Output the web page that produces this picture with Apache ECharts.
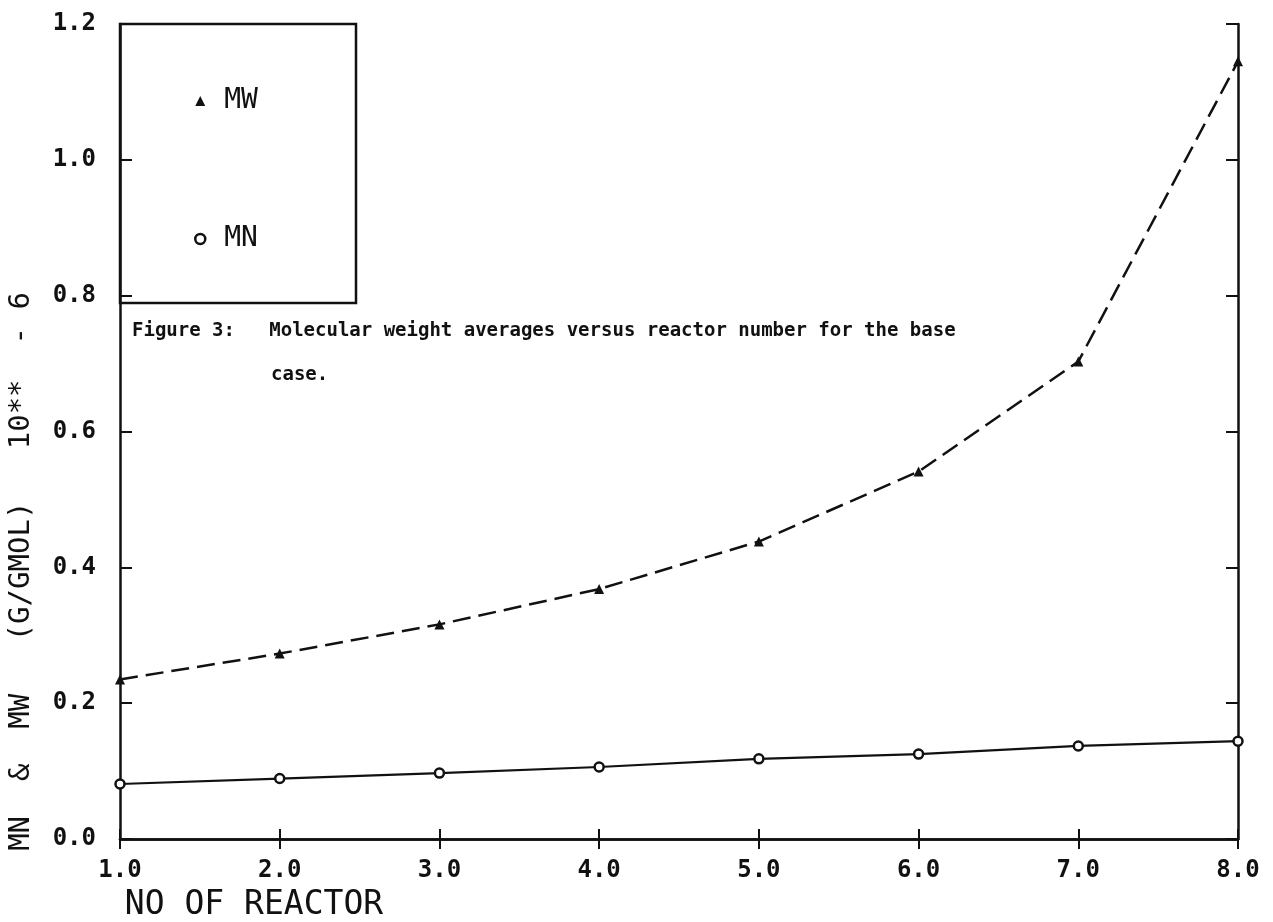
<!DOCTYPE html>
<html>
<head>
<meta charset="utf-8">
<title>Molecular weight averages versus reactor number</title>
<script src="https://cdn.jsdelivr.net/npm/echarts@6/dist/echarts.min.js"></script>
<style>
  html, body { margin: 0; padding: 0; background: #fff; }
  #chart { width: 1273px; height: 922px; }
</style>
</head>
<body>
<div id="chart"></div>
<script>
// data (values in units of 10**6 g/gmol)
var reactors = [1, 2, 3, 4, 5, 6, 7, 8];
var mwValues = [0.235, 0.273, 0.316, 0.368, 0.438, 0.541, 0.703, 1.145];
var mnValues = [0.081, 0.089, 0.097, 0.106, 0.118, 0.125, 0.137, 0.144];

var mono = '"DejaVu Sans Mono", "Liberation Mono", monospace';

function pairs(xs, ys) {
  return xs.map(function (x, i) { return [x, ys[i]]; });
}

var chart = echarts.init(document.getElementById('chart'));

var axisLineStyle = { color: '#111', width: 2.5 };

chart.setOption({
  backgroundColor: '#fff',
  animation: false,
  grid: { left: 120, right: 35, top: 24, bottom: 83, show: false, outerBoundsMode: 'none', containLabel: false },
  legend: {
    orient: 'vertical',
    left: 189,
    top: 82,
    itemGap: 110,
    itemWidth: 10,
    itemHeight: 10,
    textStyle: { fontFamily: mono, fontSize: 28, color: '#111', padding: [0, 0, 0, 14] },
    data: [
      { name: 'MW', icon: 'triangle', itemStyle: { color: '#111', borderWidth: 0 } },
      { name: 'MN', icon: 'circle', itemStyle: { color: '#fff', borderColor: '#111', borderWidth: 2.5 } }
    ]
  },
  xAxis: [{
    type: 'value',
    min: 1, max: 8, interval: 1,
    name: 'NO OF REACTOR',
    nameLocation: 'middle',
    nameGap: 50,
    nameTextStyle: { fontFamily: mono, fontSize: 33, color: '#111', padding: [0, 850, 0, 0] },
    axisLine: { lineStyle: axisLineStyle },
    axisTick: { inside: true, length: 10, lineStyle: { color: '#111', width: 2 } },
    axisLabel: {
      margin: 20,
      fontFamily: mono, fontWeight: 'bold', fontSize: 24, color: '#111',
      formatter: function (v) { return v.toFixed(1); }
    },
    splitLine: { show: false }
  }, {
    type: 'value',
    position: 'top',
    min: 1, max: 8, interval: 1,
    axisLine: { lineStyle: axisLineStyle },
    axisTick: { inside: true, length: 10, lineStyle: { color: '#111', width: 2 } },
    axisLabel: { show: false },
    splitLine: { show: false }
  }],
  yAxis: [{
    type: 'value',
    min: 0, max: 1.2, interval: 0.2,
    name: 'MN  &  MW   (G/GMOL)   10**  - 6',
    nameLocation: 'middle',
    nameGap: 84,
    nameRotate: 90,
    nameTextStyle: { fontFamily: mono, fontSize: 29, color: '#111', padding: [0, 280, 0, 0] },
    axisLine: { lineStyle: axisLineStyle },
    axisTick: { inside: true, length: 12, lineStyle: { color: '#111', width: 2 } },
    axisLabel: {
      margin: 24,
      fontFamily: mono, fontWeight: 'bold', fontSize: 24, color: '#111',
      formatter: function (v) { return v.toFixed(1); }
    },
    splitLine: { show: false }
  }, {
    type: 'value',
    position: 'right',
    min: 0, max: 1.2, interval: 0.2,
    axisLine: { show: true, lineStyle: axisLineStyle },
    axisTick: { show: true, inside: true, length: 12, lineStyle: { color: '#111', width: 2 } },
    axisLabel: { show: false },
    splitLine: { show: false }
  }],
  graphic: [
    {
      type: 'rect',
      shape: { x: 120, y: 24, width: 236, height: 279 },
      style: { fill: 'none', stroke: '#111', lineWidth: 2.5 },
      z: 10
    },
    {
      type: 'text',
      left: 132, top: 322,
      style: {
        text: 'Figure 3:   Molecular weight averages versus reactor number for the base',
        font: 'bold 19px ' + mono,
        fill: '#111'
      },
      z: 10
    },
    {
      type: 'text',
      left: 271, top: 366,
      style: { text: 'case.', font: 'bold 19px ' + mono, fill: '#111' },
      z: 10
    }
  ],
  series: [
    {
      name: 'MW',
      type: 'line',
      data: pairs(reactors, mwValues),
      symbol: 'triangle',
      symbolSize: 10,
      itemStyle: { color: '#111' },
      lineStyle: { color: '#111', width: 2.5, type: [18, 8] },
      z: 5
    },
    {
      name: 'MN',
      type: 'line',
      data: pairs(reactors, mnValues),
      symbol: 'circle',
      symbolSize: 9,
      itemStyle: { color: '#fff', borderColor: '#111', borderWidth: 2.5 },
      lineStyle: { color: '#111', width: 2.2 },
      z: 5
    }
  ]
});
</script>
</body>
</html>
